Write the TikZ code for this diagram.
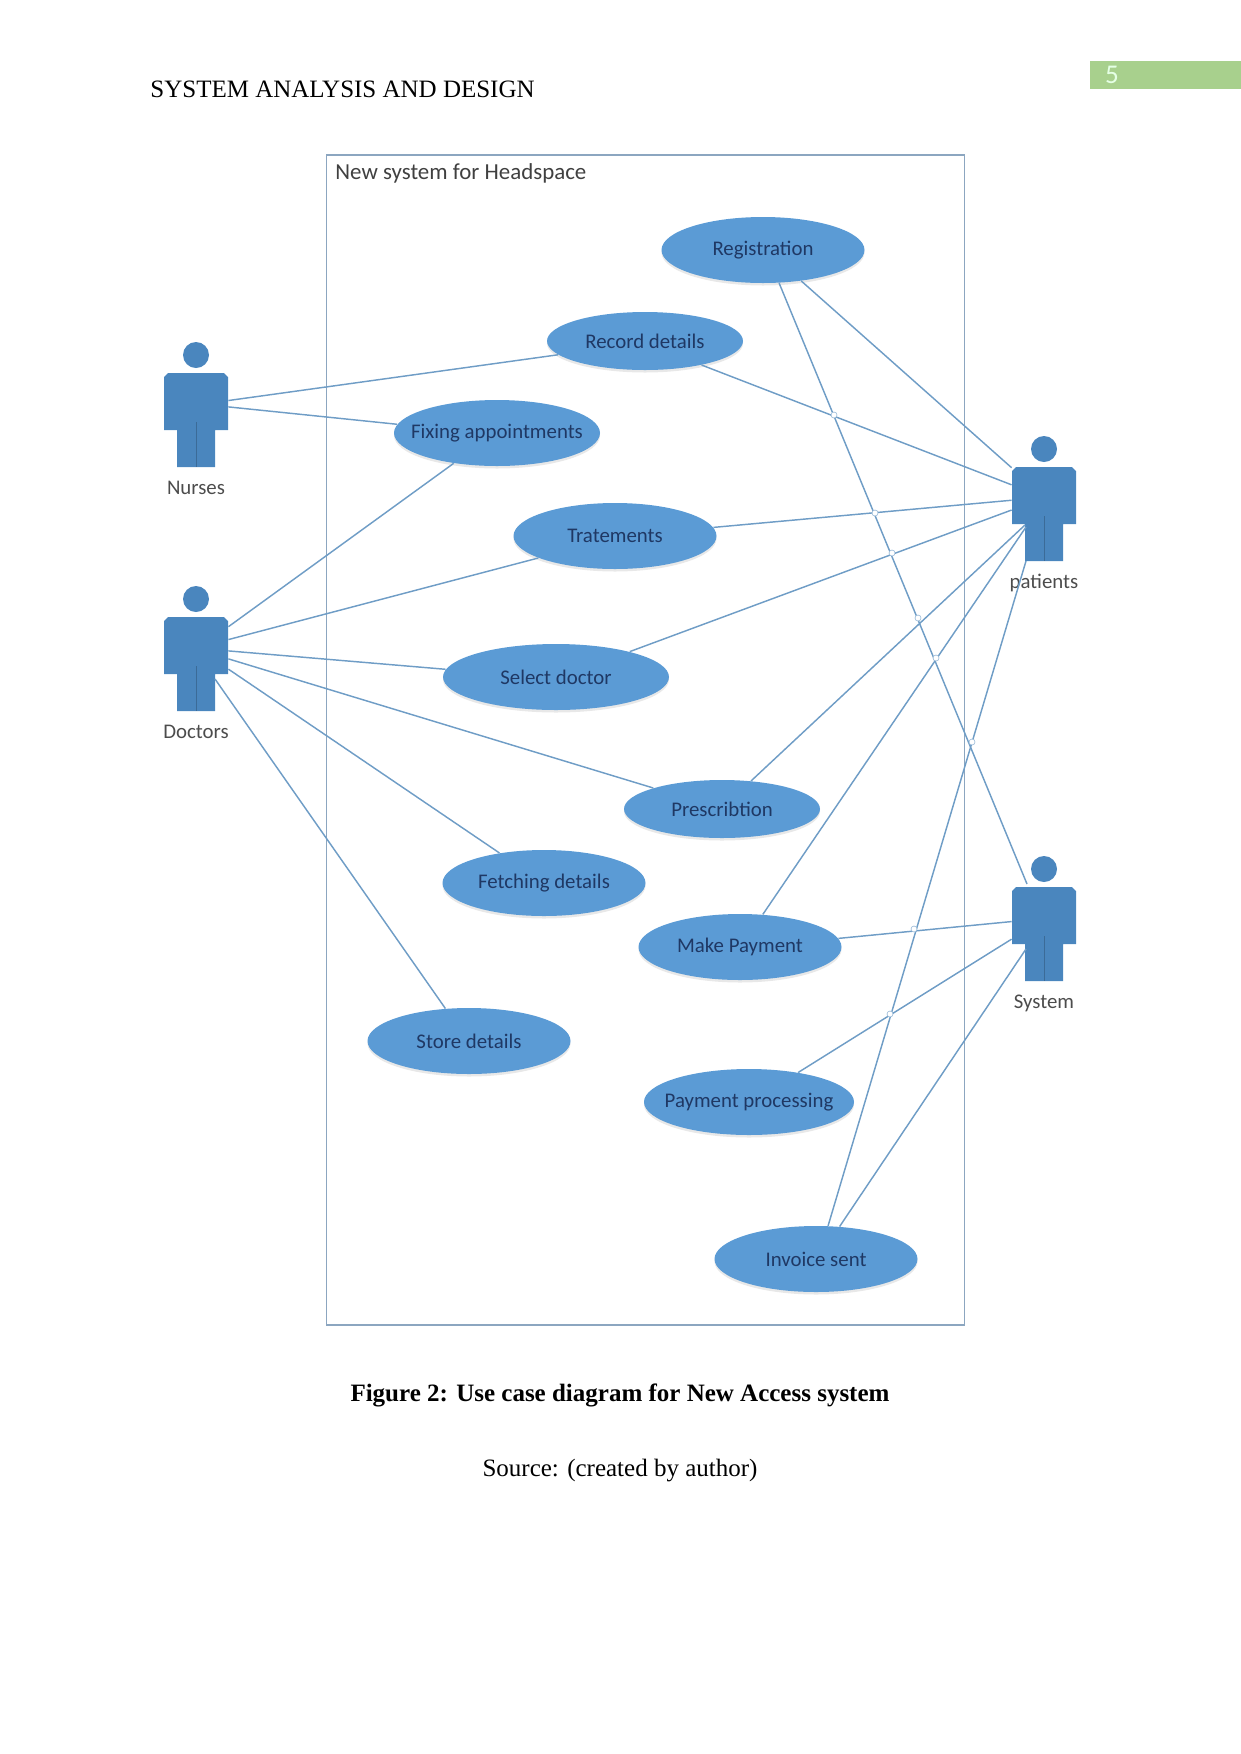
\documentclass[tikz,border=0pt]{standalone}
\usepackage{fontspec}
\setmainfont{Liberation Serif}
\newfontfamily\shapefont{Carlito}
\usetikzlibrary{positioning,shapes.geometric,shadows}

\definecolor{usefill}{HTML}{5B9BD5}
\definecolor{actorfill}{HTML}{4A86BE}
\definecolor{linkcol}{HTML}{6F9DC6}
\definecolor{framecol}{HTML}{8CA6C0}
\definecolor{usetext}{HTML}{1F3864}
\definecolor{pagegreen}{HTML}{A8D08D}

\tikzset{
   usecase/.style={ellipse, fill=usefill, inner sep=-30pt, minimum width=203*0.48pt,
      minimum height=66*0.48pt, text=usetext, font=\shapefont\fontsize{10}{12}\selectfont,
      drop shadow={opacity=.18, shadow xshift=0pt, shadow yshift=-1.2pt}},
   actorbox/.style={rectangle, inner sep=0pt, minimum width=64*0.48pt, minimum height=94*0.48pt},
   actorname/.style={text=black!70, font=\shapefont\fontsize{10}{12}\selectfont, text height=1.5ex, text depth=.25ex},
   link/.style={linkcol, line width=0.7pt},
   jump/.style={draw=linkcol!70, fill=white, line width=0.3pt}
}

\newcommand{\actor}[4]{
   \fill [actorfill] (#2,#3-65) circle [radius=13];
   \fill [actorfill] (#2-28,#3-47) -- (#2+28,#3-47) -- (#2+32,#3-43) -- (#2+32,#3+10)
      -- (#2+19,#3+10) -- (#2+19,#3+47) -- (#2-19,#3+47) -- (#2-19,#3+10)
      -- (#2-32,#3+10) -- (#2-32,#3-43) -- cycle;
   \draw [actorfill!80!black, line width=0.3pt] (#2,#3+2) -- (#2,#3+47);
   \node [actorbox] (#1) at (#2,#3) {};
   \node [actorname, below=2.5pt of #1] (#1name) {#4};
}

\begin{document}
\begin{tikzpicture}[x=0.48pt, y=-0.48pt]

   \useasboundingbox (0,0) rectangle (1241,1754);

   % header
   \node [anchor=west, inner sep=0pt, font=\fontsize{12}{14}\selectfont] (header) at (150,89) {SYSTEM ANALYSIS AND DESIGN};
   \node [anchor=north west, fill=pagegreen, inner sep=0pt, minimum width=151*0.48pt, minimum height=28*0.48pt]
      (pagebar) at (1090,61) {};
   \node [text=green!10!white, font=\shapefont\fontsize{13}{14}\selectfont] (pagenum) at (1112,75) {5};

   % system boundary
   \node [draw=framecol, line width=0.8pt, anchor=north west, inner sep=0pt, minimum width=638*0.48pt,
      minimum height=1170*0.48pt] (frame) at (325.5,154) {};
   \node [anchor=west, inner sep=0pt, text=black!75, font=\shapefont\fontsize{11}{12}\selectfont]
      (frametitle) at (335,173) {New system for Headspace};

   % actors
   \actor{nurses}{196}{420}{Nurses}
   \actor{doctors}{196}{664}{Doctors}
   \actor{patients}{1044}{514}{patients}
   \actor{system}{1044}{934}{System}

   % use cases
   \node [usecase] (registration) at (763,250) {Registration};
   \node [usecase, minimum width=196*0.48pt, minimum height=58*0.48pt] (record) at (645,341) {Record details};
   \node [usecase, minimum width=206*0.48pt] (fixing) at (497,433) {Fixing appointments};
   \node [usecase] (treat) at (615,536) {Tratements};
   \node [usecase, minimum width=226*0.48pt] (select) at (556,677) {Select doctor};
   \node [usecase, minimum width=196*0.48pt, minimum height=58*0.48pt] (prescribe) at (722,809) {Prescribtion};
   \node [usecase] (fetching) at (544,883) {Fetching details};
   \node [usecase] (payment) at (740,947) {Make Payment};
   \node [usecase] (store) at (469,1041) {Store details};
   \node [usecase, minimum width=210*0.48pt] (process) at (749,1102) {Payment processing};
   \node [usecase] (invoice) at (816,1259) {Invoice sent};

   % links
   \foreach \a/\b in {nurses.31/record.189, nurses.22/fixing.175,
         doctors.49/fixing.215, doctors.37/treat.196, doctors.22/select.176,
         doctors.9/prescribe.163, doctors.-9/fetching.146,
         registration.-39/patients.125, record.-23/patients.138,
         treat.5/patients.157, select.19/patients.173,
         payment.5/system.159, process.31/system.189}
      \draw [link] (\a) -- (\b);

   \draw [link] ([shift={(19,15)}]doctors.center) -- (store.126);
   \draw [link] (registration.-64) -- ([shift={(-17,-50)}]system.center);
   \draw [link] (prescribe.44) -- ([shift={(-19,11)}]patients.center);
   \draw [link] (payment.55) -- ([shift={(-18,13)}]patients.center);
   \draw [link] (invoice.70) -- ([shift={(-18,47)}]patients.center);
   \draw [link] (invoice.54) -- ([shift={(-18,15)}]system.center);

   % small jumps where links cross
   \foreach \x/\y in {834/415, 875/513, 892/553, 918/618, 936/658, 972/742, 914/929, 890/1014}
      \fill [jump] (\x,\y) circle [radius=3];

   % caption
   \node [font=\bfseries\fontsize{12}{14}\selectfont] (caption) at (620,1395)
      {Figure 2: Use case diagram for New Access system};
   \node [font=\fontsize{12}{14}\selectfont] (source) at (620,1471) {Source: (created by author)};

\end{tikzpicture}
\end{document}
